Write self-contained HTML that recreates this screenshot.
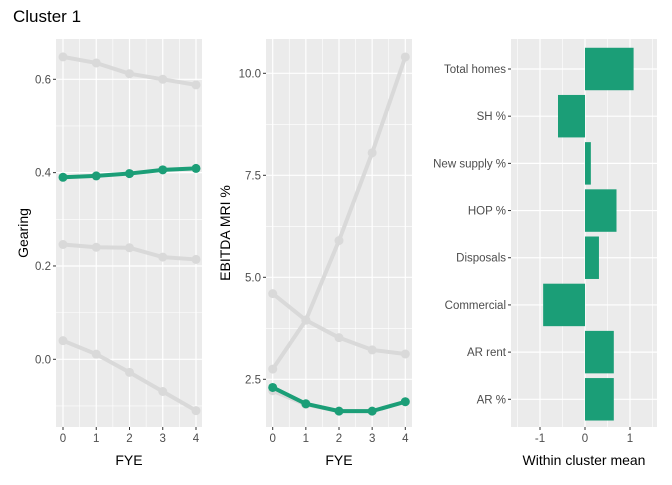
<!DOCTYPE html>
<html><head><meta charset="utf-8"><style>
body{margin:0;background:#fff;font-family:"Liberation Sans",Arial,sans-serif}
text{font-family:"Liberation Sans",Arial,sans-serif}
</style></head><body>
<svg id="c" width="672" height="480" xmlns="http://www.w3.org/2000/svg">
<text x="13" y="22" font-size="17" fill="#000">Cluster 1</text>
</svg>
<script>
const fye=[0,1,2,3,4];
const gearGrey1=[0.648,0.635,0.612,0.600,0.588];
const gearGrey2=[0.246,0.240,0.239,0.219,0.214];
const gearGrey3=[0.040,0.011,-0.028,-0.069,-0.110];
const gearGreen=[0.390,0.393,0.398,0.406,0.409];
const gearTicks=[0.0,0.2,0.4,0.6];
const ebGrey1=[2.75,3.95,5.9,8.05,10.4];
const ebGrey2=[4.6,3.95,3.52,3.22,3.12];
const ebGrey3=[2.22,1.88,1.72,1.72,1.95];
const ebGreen=[2.3,1.9,1.72,1.72,1.95];
const ebTicks=[2.5,5.0,7.5,10.0];
const cats=["Total homes","SH %","New supply %","HOP %","Disposals","Commercial","AR rent","AR %"];
const means=[1.08,-0.6,0.13,0.7,0.31,-0.93,0.64,0.64];
const meanTicks=[-1,0,1];

const svg=document.getElementById('c');
const NS='http://www.w3.org/2000/svg';
function el(t,a,p){const e=document.createElementNS(NS,t);for(const k in a)e.setAttribute(k,a[k]);(p||svg).appendChild(e);return e;}
const TOP=39,BOT=427,GREEN='#1b9e77',GREY='#d9d9d9',FS=11.5;

function linePanel(name,L,R,xs,ymap,yTicks,minor,series,ylab,fmt,ytx){
  const g=el('g',{});
  
  
  el('rect',{x:L,y:TOP,width:R-L,height:BOT-TOP,fill:'#ebebeb'},g);
  minor.forEach(v=>el('line',{x1:L,x2:R,y1:ymap(v),y2:ymap(v),stroke:'#fff','stroke-width':0.6},g));
  [0.5,1.5,2.5,3.5].forEach(v=>el('line',{x1:xs(v),x2:xs(v),y1:TOP,y2:BOT,stroke:'#fff','stroke-width':0.6},g));
  yTicks.forEach(v=>{const y=ymap(v);
    el('line',{x1:L,x2:R,y1:y,y2:y,stroke:'#fff','stroke-width':1.2},g);
    el('line',{x1:L-3,x2:L,y1:y,y2:y,stroke:'#333'},g);
    const t=el('text',{x:L-5,y:y+4,'font-size':FS,fill:'#4d4d4d','text-anchor':'end'},g);t.textContent=fmt(v);
    
    });
  fye.forEach(v=>{const x=xs(v);
    el('line',{x1:x,x2:x,y1:TOP,y2:BOT,stroke:'#fff','stroke-width':1.2},g);
    el('line',{x1:x,x2:x,y1:BOT,y2:BOT+3,stroke:'#333'},g);
    const t=el('text',{x:x,y:BOT+15,'font-size':FS,fill:'#4d4d4d','text-anchor':'middle'},g);t.textContent=v;
    
    });
  series.forEach(([vals,col,w,r])=>{
    const pts=vals.map((v,j)=>xs(fye[j])+','+ymap(v)).join(' ');
    const pl=el('polyline',{points:pts,fill:'none',stroke:col,'stroke-width':w,'stroke-linejoin':'round'},g);
    
    
    vals.forEach((v,j)=>{const c=el('circle',{cx:xs(fye[j]),cy:ymap(v),r:r,fill:col},g);
      
      });
  });
  const xt=el('text',{x:(L+R)/2,y:465,'font-size':14,fill:'#000','text-anchor':'middle'},g);xt.textContent='FYE';
  
  
  const yt=el('text',{x:0,y:0,'font-size':14,fill:'#000','text-anchor':'middle',transform:`translate(${ytx},${(TOP+BOT)/2}) rotate(-90)`},g);yt.textContent=ylab;
  
  
}
const xs1=v=>63+v*(196-63)/4;
const y1=v=>359.3-v*(359.3-79.3)/0.6;
linePanel('gearing',56,202,xs1,y1,gearTicks,[-0.1,0.1,0.3,0.5],
 [[gearGrey1,GREY,4,4.5],[gearGrey2,GREY,4,4.5],[gearGrey3,GREY,4,4.5],[gearGreen,GREEN,4,4.5]],'Gearing',v=>v.toFixed(1),28);
const xs2=v=>272.7+v*(405.3-272.7)/4;
const y2=v=>379.3-(v-2.5)*(379.3-73.3)/7.5;
linePanel('ebitda',266,412,xs2,y2,ebTicks,[3.75,6.25,8.75],
 [[ebGrey1,GREY,4,4.5],[ebGrey2,GREY,4,4.5],[ebGrey3,GREY,4,4.5],[ebGreen,GREEN,4,4.5]],'EBITDA MRI %',v=>v.toFixed(1),230);

const L3=511,R3=657;
const xm=v=>585+v*45;
const yc=i=>69+i*(399.3-69)/(cats.length-1);
const bw=0.9*(399.3-69)/(cats.length-1);
const g3=el('g',{});


el('rect',{x:L3,y:TOP,width:R3-L3,height:BOT-TOP,fill:'#ebebeb'},g3);
[-1.5,-0.5,0.5,1.5].forEach(v=>el('line',{x1:xm(v),x2:xm(v),y1:TOP,y2:BOT,stroke:'#fff','stroke-width':0.6},g3));
meanTicks.forEach(v=>{const x=xm(v);
  el('line',{x1:x,x2:x,y1:TOP,y2:BOT,stroke:'#fff','stroke-width':1.2},g3);
  el('line',{x1:x,x2:x,y1:BOT,y2:BOT+3,stroke:'#333'},g3);
  const t=el('text',{x:x,y:BOT+15,'font-size':FS,fill:'#4d4d4d','text-anchor':'middle'},g3);t.textContent=v;
  
  });
cats.forEach((c,i)=>{const y=yc(i);
  el('line',{x1:L3,x2:R3,y1:y,y2:y,stroke:'#fff','stroke-width':1.2},g3);
  el('line',{x1:L3-3,x2:L3,y1:y,y2:y,stroke:'#333'},g3);
  const t=el('text',{x:L3-5,y:y+4,'font-size':FS,fill:'#4d4d4d','text-anchor':'end'},g3);t.textContent=c;
  
  
  const v=means[i];
  const b=el('rect',{x:Math.min(xm(0),xm(v)),y:y-bw/2,width:Math.abs(xm(v)-xm(0)),height:bw,fill:GREEN},g3);
  
  
});
const xt3=el('text',{x:(L3+R3)/2,y:465,'font-size':14,fill:'#000','text-anchor':'middle'},g3);xt3.textContent='Within cluster mean';


</script>
</body></html>
